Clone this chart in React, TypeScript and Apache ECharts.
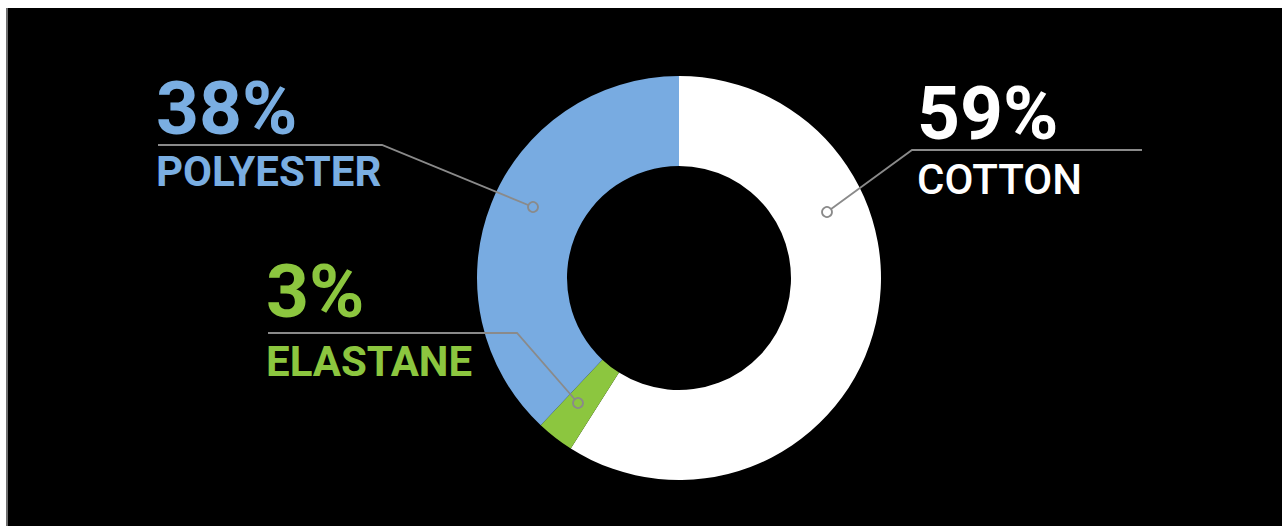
import React, { useEffect, useRef } from "react";
import * as echarts from "echarts";

// ---- data ----
const categories = ["COTTON", "ELASTANE", "POLYESTER"];
const shares = [59, 3, 38];
const sliceColors = ["#ffffff", "#8cc63f", "#78abe1"];
const textColors = ["#ffffff", "#8cc63f", "#7aaee2"];

// ---- layout (chart pixel coordinates) ----
const PIE_CENTER = [671, 270];
const PIE_RADIUS = [112, 202];
const LINE_COLOR = "#8a8a8a";
const labelPlacement = [
  // COTTON
  { x: 909, y: 65, marker: [819, 204], elbow: [904, 142], end: [1134, 142], nameLH: 52 },
  // ELASTANE
  { x: 258, y: 243, marker: [570, 395], elbow: [509, 325], end: [260, 325], nameLH: 60 },
  // POLYESTER
  { x: 148, y: 60, marker: [525, 199], elbow: [374, 137], end: [150, 137], nameLH: 47 },
];
const nameWeights = [500, 700, 700];

export default function App() {
  const ref = useRef<HTMLDivElement>(null);
  useEffect(() => {
    if (!ref.current) return;
    const chart = echarts.init(ref.current, null, { renderer: "svg" });
    const rich: Record<string, any> = {};
    categories.forEach((_, i) => {
      rich["p" + i] = {
        fontFamily: "Roboto",
        fontSize: 75,
        fontWeight: 700,
        lineHeight: 80,
        color: textColors[i],
      };
      rich["n" + i] = {
        fontFamily: "Roboto",
        fontSize: 42,
        fontWeight: nameWeights[i],
        lineHeight: labelPlacement[i].nameLH,
        color: textColors[i],
      };
    });
    const pieData = categories.map((c, i) => ({
      name: c,
      value: shares[i],
      itemStyle: { color: sliceColors[i] },
    }));
    const option: any = {
      animation: false,
      backgroundColor: "#000000",
      series: [
        {
          type: "pie",
          z: 2,
          center: PIE_CENTER,
          radius: PIE_RADIUS,
          startAngle: 90,
          clockwise: true,
          emphasis: { disabled: true },
          itemStyle: { borderWidth: 0 },
          data: pieData,
          label: { show: false },
          labelLine: { show: false },
        },
        {
          // transparent overlay carrying labels and leader lines above the ring
          type: "pie",
          z: 5,
          center: PIE_CENTER,
          radius: PIE_RADIUS,
          startAngle: 90,
          clockwise: true,
          silent: true,
          avoidLabelOverlap: false,
          emphasis: { disabled: true },
          itemStyle: { color: "rgba(0,0,0,0)", borderWidth: 0 },
          data: categories.map((c, i) => ({ name: c, value: shares[i] })),
          label: {
            show: true,
            position: "outside",
            formatter: (p: any) =>
              `{p${p.dataIndex}|${p.value}%}\n{n${p.dataIndex}|${p.name}}`,
            rich,
          },
          labelLine: {
            show: true,
            lineStyle: { color: LINE_COLOR, width: 1.8 },
          },
          labelLayout: (params: any) => {
            const L = labelPlacement[params.dataIndex];
            return {
              x: L.x,
              y: L.y,
              align: "left",
              verticalAlign: "top",
              labelLinePoints: [L.marker, L.elbow, L.end],
            };
          },
        },
      ],
      graphic: categories.map((_, i) => ({
        type: "circle",
        z: 100,
        shape: { cx: labelPlacement[i].marker[0], cy: labelPlacement[i].marker[1], r: 5 },
        style: { fill: sliceColors[i], stroke: LINE_COLOR, lineWidth: 1.8 },
      })),
    };
    chart.setOption(option);
    return () => chart.dispose();
  }, []);
  return (
    <div
      style={{
        position: "absolute",
        left: 6,
        top: 8,
        width: 1276,
        height: 518,
        background: "#000",
        boxSizing: "border-box",
        borderLeft: "2px solid #6e6e6e",
      }}
    >
      <div ref={ref} style={{ width: 1274, height: 518 }} />
    </div>
  );
}
